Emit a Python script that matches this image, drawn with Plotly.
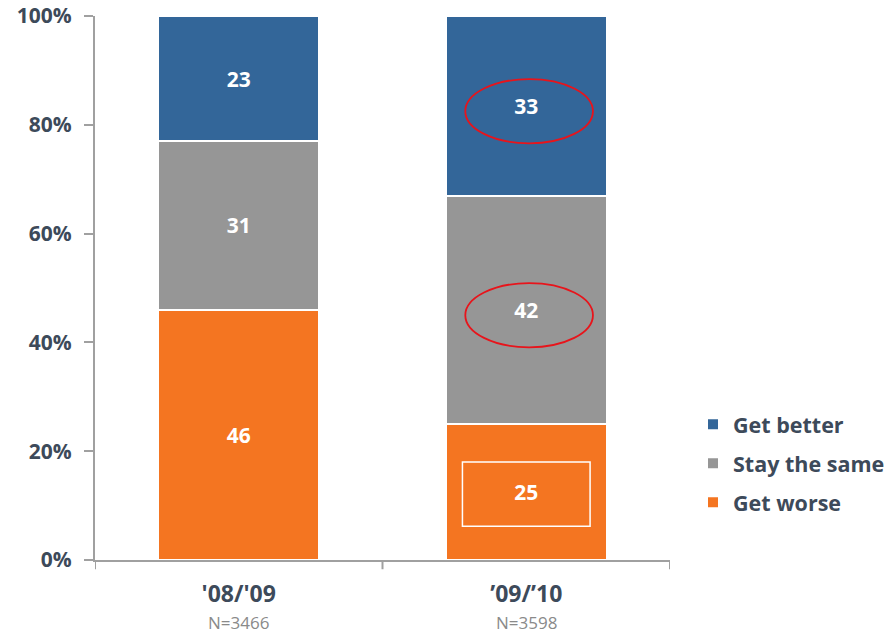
import plotly.graph_objects as go

categories = ["'08/'09", "’09/’10"]
sample_sizes = ["N=3466", "N=3598"]
get_worse = [46, 25]
stay_same = [31, 42]
get_better = [23, 33]
y_ticks = [0, 20, 40, 60, 80, 100]

TXT = "#3d4a5a"
FONT = "'Open Sans', Lato, sans-serif"
colors = {"Get worse": "#F47521", "Stay the same": "#969696", "Get better": "#336699"}

fig = go.Figure()
series = [("Get worse", get_worse), ("Stay the same", stay_same), ("Get better", get_better)]
for i, (name, vals) in enumerate(series):
    fig.add_trace(go.Bar(
        x=[0, 1], y=vals, name=f"<b>{name}</b>",
        marker=dict(color=colors[name], line=dict(color="white", width=2)),
        width=0.56,
        text=[str(v) for v in vals], textposition="inside", insidetextanchor="middle",
        textfont=dict(color="white", size=21, family=FONT),
        texttemplate="<b>%{text}</b>",
        legendgroup=name, legendrank=3 - i, hoverinfo="skip",
    ))

# highlight shapes around the second bar's labels
cum = 0
mids = []
for name, vals in series:
    mids.append(cum + vals[1] / 2)
    cum += vals[1]
hw = 0.222
hh = 5.9
fig.add_shape(type="rect", xref="x", yref="y", x0=1 - hw, x1=1 + hw,
              y0=mids[0] - hh - 0.4, y1=mids[0] + hh - 0.4, line=dict(color="white", width=1.5))
for m in mids[1:]:
    fig.add_shape(type="circle", xref="x", yref="y", x0=1 - hw + 0.01, x1=1 + hw + 0.01,
                  y0=m - hh - 1.0, y1=m + hh - 1.0, line=dict(color="#E8141B", width=1.8))

for i, n in enumerate(sample_sizes):
    fig.add_annotation(x=i, y=0, xref="x", yref="paper", yshift=-62, yanchor="middle",
                       text=n, showarrow=False,
                       font=dict(size=17, color="#8a8a8a", family=FONT))

fig.update_layout(
    width=887, height=634,
    margin=dict(l=95, r=217, t=16, b=74, autoexpand=False),
    barmode="stack",
    plot_bgcolor="white", paper_bgcolor="white",
    font=dict(family=FONT, color=TXT),
    showlegend=True,
    legend=dict(x=1.04, y=0.287, xanchor="left", yanchor="top",
                font=dict(size=21.5, color=TXT, family=FONT),
                traceorder="reversed+grouped", tracegroupgap=8,
                itemwidth=30),
)
fig.update_xaxes(
    type="linear", range=[-0.5, 1.5], automargin=False,
    tickvals=[0, 1], ticktext=[f"<b>{c}</b>" for c in categories],
    tickfont=dict(size=23, color=TXT, family=FONT),
    ticklabelstandoff=12,
    showline=True, linecolor="#a0a0a0", linewidth=2,
    ticks="", showgrid=False, zeroline=False,
)
for bx in [-0.5, 0.5, 1.5]:
    fig.add_shape(type="line", xref="x", yref="paper", x0=bx, x1=bx, y0=0, y1=-0.017,
                  line=dict(color="#a0a0a0", width=2))
fig.update_yaxes(
    range=[0, 100], automargin=False,
    tickvals=y_ticks, ticktext=[f"<b>{v}%</b>" for v in y_ticks],
    tickfont=dict(size=21, color=TXT, family=FONT),
    showline=True, linecolor="#a0a0a0", linewidth=2,
    ticks="outside", ticklen=9, tickcolor="#a0a0a0", tickwidth=2,
    ticklabelstandoff=8,
    showgrid=False, zeroline=False,
)

fig.write_html("out.html", config={"displayModeBar": False},
               post_script="document.body.style.margin='0';document.body.style.overflow='hidden';")
